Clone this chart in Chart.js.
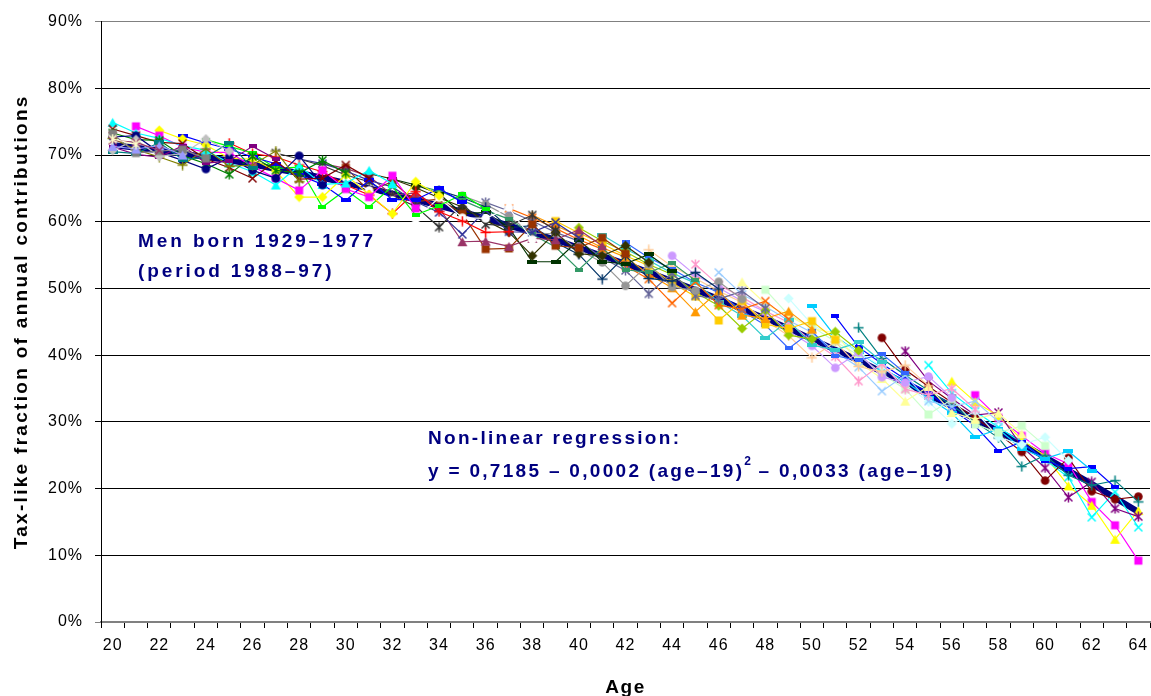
<!DOCTYPE html>
<html>
<head>
<title>Tax-like fraction of annual contributions</title>
<script src="https://cdn.jsdelivr.net/npm/chart.js"></script>
<style>
  html, body { margin: 0; padding: 0; background: #fff; overflow: hidden; }
  canvas { display: block; }
</style>
</head>
<body>
<canvas id="fractionChart" width="1151" height="696"></canvas>
<script>
// x categories (age) and y ticks (%)
const ages = [20, 21, 22, 23, 24, 25, 26, 27, 28, 29, 30, 31, 32, 33, 34, 35, 36, 37, 38, 39,
              40, 41, 42, 43, 44, 45, 46, 47, 48, 49, 50, 51, 52, 53, 54, 55, 56, 57, 58, 59,
              60, 61, 62, 63, 64];
const yTicks = [0, 10, 20, 30, 40, 50, 60, 70, 80, 90];

// thick regression line (%)
const regression = [71.5, 71.1, 70.7, 70.2, 69.7, 69.2, 68.6, 67.9, 67.3, 66.6,
                    65.8, 65.0, 64.2, 63.3, 62.4, 61.5, 60.5, 59.4, 58.4, 57.3,
                    56.1, 54.9, 53.7, 52.4, 51.1, 49.8, 48.4, 46.9, 45.5, 44.0,
                    42.4, 40.8, 39.2, 37.5, 35.8, 34.1, 32.3, 30.4, 28.6, 26.7,
                    24.7, 22.7, 20.7, 18.6, 16.5];

// one line per birth cohort: first age shown and the values (%)
const cohortFirstAge = [57, 56, 55, 54, 53, 52, 51, 50, 49, 48, 47, 46, 45, 44, 43, 42, 41, 40, 39,
                        38, 37, 36, 35, 34, 33, 32, 31, 30, 29, 28, 27, 26, 25, 24, 23, 22, 21, 20,
                        20, 20, 20, 20, 20, 20, 20, 20, 20, 20, 20];
const cohortValues = [
  [34.0, 30.6, 27.9, 25.3, 23.7, 18.0, 14.5, 9.2],
  [36.1, 33.0, 30.9, 27.3, 24.9, 20.4, 17.5, 12.4, 16.7],
  [38.5, 34.3, 31.6, 29.2, 26.9, 24.3, 21.7, 15.7, 19.5, 14.2],
  [40.6, 36.1, 33.5, 31.0, 31.4, 26.3, 23.1, 18.7, 21.0, 17.0, 15.8],
  [42.6, 37.8, 35.3, 32.9, 30.6, 28.2, 25.5, 21.2, 24.6, 19.6, 18.4, 18.8],
  [44.1, 39.5, 37.0, 34.7, 32.5, 30.0, 27.6, 23.3, 25.0, 22.0, 20.5, 21.2, 18.0],
  [45.8, 41.2, 38.7, 36.4, 34.3, 31.9, 29.4, 25.6, 27.0, 24.2, 23.0, 23.3, 20.2],
  [47.3, 42.8, 40.4, 38.1, 36.0, 33.6, 31.3, 27.7, 28.9, 26.0, 24.5, 25.6, 22.7],
  [48.5, 44.6, 42.6, 40.4, 38.3, 35.6, 33.0, 29.7, 31.6, 27.7, 26.6, 27.7, 24.2],
  [49.8, 46.0, 44.3, 42.0, 40.0, 37.2, 34.9, 31.1, 33.4, 29.6, 28.4, 29.4, 26.4],
  [51.0, 47.7, 45.9, 44.0, 43.3, 38.9, 36.5, 33.1, 35.3, 31.4, 30.4, 31.3, 28.2],
  [52.4, 49.1, 47.3, 45.2, 43.4, 40.5, 38.2, 34.6, 37.0, 33.1, 32.3, 33.1, 30.0],
  [53.6, 50.5, 48.7, 46.6, 44.9, 42.1, 39.8, 36.1, 38.7, 34.9, 34.0, 35.0, 31.9],
  [54.9, 52.0, 50.1, 48.1, 46.5, 43.6, 41.4, 38.1, 40.4, 36.7, 35.9, 36.8, 33.6],
  [55.8, 53.3, 51.5, 49.6, 47.9, 45.2, 42.9, 39.6, 42.0, 38.3, 37.5, 38.5, 35.4],
  [56.9, 54.6, 52.9, 50.9, 49.4, 46.6, 44.5, 41.0, 43.6, 39.9, 39.2, 40.2, 37.3],
  [58.0, 55.9, 54.2, 52.3, 50.8, 48.0, 45.9, 42.5, 45.2, 41.5, 40.8, 41.9, 39.0],
  [59.1, 57.1, 55.5, 53.6, 52.1, 49.4, 47.4, 44.0, 46.7, 43.0, 42.4, 43.5, 40.7],
  [60.1, 58.3, 56.7, 54.9, 53.4, 50.8, 48.8, 45.2, 48.1, 44.6, 44.0, 45.1, 42.3],
  [61.0, 59.4, 57.9, 56.1, 54.7, 52.1, 50.1, 46.5, 49.6, 46.0, 45.5, 46.6, 43.9],
  [62.0, 60.6, 59.0, 57.3, 55.9, 53.4, 51.4, 47.8, 51.0, 47.5, 46.9, 48.1, 45.4],
  [62.9, 61.6, 60.1, 58.4, 57.1, 54.6, 52.7, 49.2, 52.3, 48.9, 48.4, 49.6, 47.0],
  [63.9, 62.6, 60.7, 58.3, 58.2, 55.8, 53.9, 50.4, 53.6, 50.2, 49.7, 51.0, 48.4],
  [64.7, 63.6, 62.2, 59.1, 59.4, 56.9, 55.1, 51.4, 54.9, 51.5, 51.1, 52.4, 49.9],
  [65.5, 64.6, 63.2, 61.7, 60.4, 58.1, 56.2, 52.8, 56.1, 52.8, 52.4, 53.8, 51.2],
  [66.4, 65.5, 64.2, 61.2, 61.4, 59.1, 54.0, 54.0, 57.3, 54.0, 53.7, 55.1, 52.6],
  [67.2, 66.4, 65.1, 63.6, 62.2, 60.2, 58.4, 54.9, 58.4, 55.2, 54.9, 56.4, 53.9],
  [68.1, 64.6, 66.0, 63.0, 63.4, 61.2, 55.9, 56.0, 59.6, 56.4, 56.1, 57.6, 55.2],
  [68.7, 68.0, 66.8, 64.0, 64.3, 62.1, 57.0, 57.1, 56.3, 57.5, 57.3, 58.8, 56.4],
  [69.4, 68.7, 67.6, 66.2, 65.2, 63.0, 61.4, 58.1, 61.7, 58.5, 58.4, 59.9, 57.6],
  [70.3, 69.4, 68.4, 67.0, 66.0, 63.9, 62.3, 59.2, 62.6, 59.6, 59.4, 61.0, 58.7],
  [71.0, 70.1, 69.0, 67.8, 66.6, 64.7, 63.2, 60.4, 63.6, 60.6, 60.5, 62.1, 57.3],
  [71.8, 70.2, 69.7, 68.5, 67.5, 65.5, 64.0, 61.2, 64.5, 61.5, 60.1, 58.4, 58.5],
  [72.3, 71.3, 70.3, 68.0, 68.2, 62.2, 64.8, 62.2, 65.3, 61.0, 62.4, 64.1, 61.9],
  [72.9, 71.8, 70.9, 69.7, 68.7, 67.0, 65.6, 63.2, 66.2, 63.3, 63.3, 65.0, 62.9],
  [73.7, 72.4, 71.5, 69.5, 69.4, 67.6, 63.7, 63.7, 67.0, 64.1, 61.2, 66.0, 63.9],
  [74.3, 72.9, 71.2, 70.4, 70.4, 68.3, 66.5, 64.7, 67.7, 64.9, 63.7, 66.9, 62.0],
  [74.9, 73.3, 72.5, 71.4, 70.7, 68.8, 67.5, 65.5, 68.4, 65.6, 65.8, 67.7, 65.7],
  [73.9, 72.9, 71.9, 71.7, 69.4, 68.1, 66.5, 69.1, 66.4, 66.5, 68.5, 66.5],
  [73.3, 72.3, 72.2, 69.9, 68.7, 67.1, 69.8, 67.7, 67.3, 69.2, 67.3],
  [72.7, 72.9, 70.4, 69.2, 67.9, 69.6, 67.7, 66.5, 69.9, 65.5],
  [72.5, 70.8, 69.7, 68.5, 70.9, 68.3, 68.5, 70.6, 66.0],
  [71.2, 70.1, 69.7, 71.4, 68.8, 69.1, 71.3, 69.4],
  [70.5, 70.2, 71.9, 69.3, 69.7, 71.8, 68.0],
  [70.7, 72.3, 69.8, 70.2, 72.4, 70.6],
  [73.2, 70.3, 70.6, 70.8, 69.5],
  [71.3, 70.9, 71.4, 70.0],
  [72.2, 71.9, 70.7],
  [72.4, 71.6]
];

// Excel's automatic series colours and marker cycle
const cohortColors = ['#FF00FF', '#FFFF00', '#00FFFF', '#800080', '#800000', '#008080', '#0000FF',
  '#00CCFF', '#CCFFFF', '#CCFFCC', '#FFFF99', '#99CCFF', '#FF99CC', '#CC99FF', '#FFCC99', '#3366FF',
  '#33CCCC', '#99CC00', '#FFCC00', '#FF9900', '#FF6600', '#666699', '#969696', '#003366', '#339966',
  '#003300', '#333300', '#993300', '#993366', '#333399', '#333333', '#FFFFFF', '#FF0000', '#00FF00',
  '#0000FF', '#FFFF00', '#FF00FF', '#00FFFF', '#800000', '#008000', '#000080', '#808000', '#800080',
  '#008080', '#C0C0C0', '#808080', '#9999FF', '#993366', '#FFFFCC'];
const markerCycle = ['diamond', 'square', 'triangle', 'x', 'asterisk', 'circle', 'plus', 'dot', 'dash'];

const FONT = '"Liberation Sans", Arial, sans-serif';

function makeMarker(shape, color) {
    const c = document.createElement('canvas');
    let w = 11, h = 11;
    if (shape === 'dot') { w = 8; h = 4; }
    if (shape === 'dash') { w = 10; h = 4; }
    c.width = w; c.height = h;
    const g = c.getContext('2d');
    g.fillStyle = color;
    g.strokeStyle = color;
    g.lineWidth = 1.5;
    const m = 5.5;
    g.beginPath();
    switch (shape) {
        case 'diamond':
            g.moveTo(m, 0.5); g.lineTo(10.5, m); g.lineTo(m, 10.5); g.lineTo(0.5, m);
            g.closePath(); g.fill(); break;
        case 'square':
            g.fillRect(1.5, 1.5, 8, 8); break;
        case 'triangle':
            g.moveTo(m, 1); g.lineTo(10.5, 10); g.lineTo(0.5, 10);
            g.closePath(); g.fill(); break;
        case 'circle':
            g.arc(m, m, 4.3, 0, Math.PI * 2); g.fill(); break;
        case 'x':
            g.moveTo(1.5, 1.5); g.lineTo(9.5, 9.5); g.moveTo(9.5, 1.5); g.lineTo(1.5, 9.5);
            g.stroke(); break;
        case 'asterisk':
            g.moveTo(1.5, 1.5); g.lineTo(9.5, 9.5); g.moveTo(9.5, 1.5); g.lineTo(1.5, 9.5);
            g.moveTo(m, 0.5); g.lineTo(m, 10.5);
            g.stroke(); break;
        case 'plus':
            g.moveTo(m, 0.5); g.lineTo(m, 10.5); g.moveTo(0.5, m); g.lineTo(10.5, m);
            g.stroke(); break;
        default:
            g.fillRect(0, 0, w, h);
    }
    return c;
}

const datasets = [{
    label: 'Regression',
    data: ages.map((a, i) => ({ x: String(a), y: regression[i] })),
    borderColor: '#000080',
    borderWidth: 6,
    pointRadius: 0,
    order: 1000
}];

cohortValues.forEach((vals, i) => {
    const color = cohortColors[i];
    datasets.push({
        label: 'Born ' + (1929 + i),
        data: vals.map((v, k) => ({ x: String(cohortFirstAge[i] + k), y: v })),
        borderColor: color,
        borderWidth: 1.2,
        pointStyle: makeMarker(markerCycle[(i + 1) % 9], color),
        pointRadius: 4,
        order: 100 - i
    });
});

const textPlugin = {
    id: 'chartText',
    beforeDraw(chart) {
        chart.ctx.letterSpacing = '1px';
    },
    afterDraw(chart) {
        const ctx = chart.ctx;
        const area = chart.chartArea;
        ctx.save();
        ctx.textAlign = 'left';
        ctx.textBaseline = 'alphabetic';
        ctx.fillStyle = '#000080';
        ctx.font = 'bold 19px ' + FONT;
        ctx.letterSpacing = '2.9px';
        ctx.fillText('Men born 1929\u20131977', 138, 247);
        ctx.fillText('(period 1988\u201397)', 138, 277);
        ctx.letterSpacing = '2.3px';
        ctx.fillText('Non-linear regression:', 428, 444);
        const eq1 = 'y = 0,7185 \u2013 0,0002 (age\u201319)';
        ctx.fillText(eq1, 428, 477);
        let x = 428 + ctx.measureText(eq1).width;
        ctx.font = 'bold 12px ' + FONT;
        ctx.letterSpacing = '0px';
        ctx.fillText('2', x, 465);
        x += ctx.measureText('2').width;
        ctx.font = 'bold 19px ' + FONT;
        ctx.letterSpacing = '2.3px';
        ctx.fillText(' \u2013 0,0033 (age\u201319)', x, 477);

        // axis titles
        ctx.fillStyle = '#000';
        ctx.textAlign = 'center';
        ctx.letterSpacing = '1.5px';
        ctx.fillText('Age', (area.left + area.right) / 2, 693);
        ctx.letterSpacing = '2.3px';
        ctx.translate(27, (area.top + area.bottom) / 2);
        ctx.rotate(-Math.PI / 2);
        ctx.fillText('Tax-like fraction of annual contributions', 0, 0);
        ctx.restore();
    }
};

new Chart(document.getElementById('fractionChart').getContext('2d'), {
    type: 'line',
    data: { labels: ages.map(String), datasets: datasets },
    plugins: [textPlugin],
    options: {
        responsive: false,
        animation: false,
        events: [],
        layout: { autoPadding: false, padding: { top: 19, right: 1, left: 0, bottom: 0 } },
        elements: { line: { tension: 0 } },
        plugins: { legend: { display: false }, tooltip: { enabled: false } },
        scales: {
            x: {
                type: 'category',
                offset: true,
                afterFit(scale) {
                    scale.height = 74;
                    scale.paddingLeft = 0;
                    scale.paddingRight = 0;
                },
                ticks: {
                    autoSkip: false,
                    maxRotation: 0,
                    color: '#000',
                    padding: 8,
                    font: { family: FONT, size: 16 },
                    callback: function (v, i) { return i % 2 === 0 ? this.getLabelForValue(v) : ''; }
                },
                grid: { offset: true, drawOnChartArea: false, drawTicks: true, tickLength: 6, color: '#000' },
                border: { color: '#808080', width: 1.5 }
            },
            y: {
                min: 0,
                max: 90,
                afterFit(scale) { scale.width = 101; },
                afterBuildTicks(scale) { scale.ticks = yTicks.map(v => ({ value: v })); },
                ticks: {
                    color: '#000',
                    padding: 12,
                    font: { family: FONT, size: 16 },
                    callback: v => v + '%'
                },
                grid: {
                    color: c => (c.tick && (c.tick.value === 0 || c.tick.value === 90)) ? '#808080' : '#000',
                    lineWidth: 1,
                    tickLength: 6
                },
                border: { color: '#000', width: 1 }
            }
        }
    }
});
</script>
</body>
</html>
